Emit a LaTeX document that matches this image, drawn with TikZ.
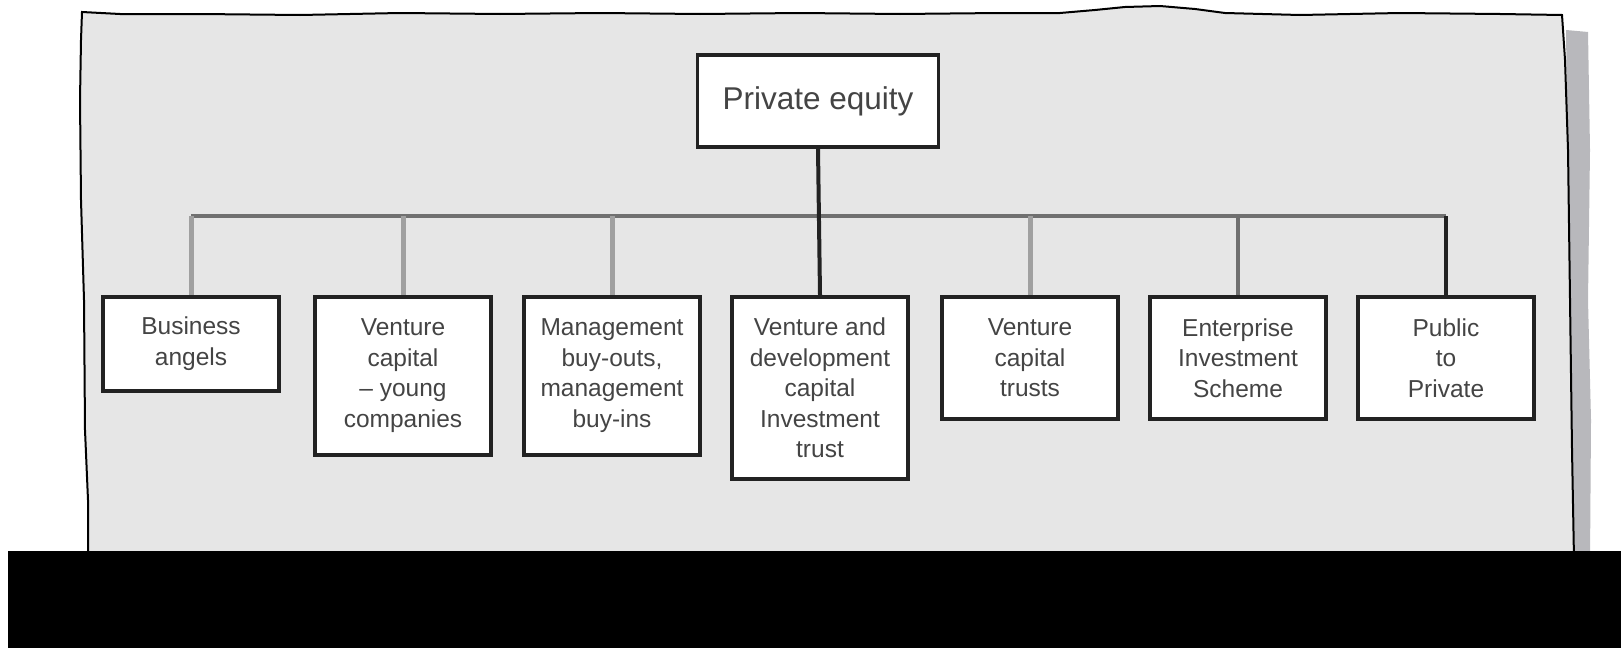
\documentclass[tikz,border=0pt]{standalone}
\usepackage{fontspec}
\setmainfont{Liberation Sans}
\definecolor{panel}{HTML}{E6E6E6}
\definecolor{boxline}{HTML}{222222}
\definecolor{txt}{HTML}{444444}
\definecolor{barcol}{HTML}{707070}
\definecolor{droplight}{HTML}{A0A0A0}
\definecolor{dropdark}{HTML}{6F6F6F}
\definecolor{shadowcol}{HTML}{B8B8BC}
\begin{document}
\begin{tikzpicture}[x=0.5pt,y=-0.5pt,
  box/.style={draw=boxline,line width=1.75pt,fill=white,minimum width=88pt,inner sep=0pt,
    align=center,font=\fontsize{12.25pt}{15.25pt}\selectfont,text=txt,anchor=north},
  topbox/.style={draw=boxline,line width=1.75pt,fill=white,minimum width=120.5pt,minimum height=46pt,
    inner sep=0pt,font=\fontsize{15.75pt}{19pt}\selectfont,text=txt},
  droplt/.style={line width=2.5pt,draw=droplight},
  dropdk/.style={line width=2.2pt,draw=dropdark},
  dropbk/.style={line width=2pt,draw=boxline},
  barline/.style={line width=2pt,draw=barcol}]
\useasboundingbox (0,0) rectangle (1621,648);
% shadow on the right
\fill[shadowcol] (1566,30) -- (1588,32) -- (1590,150) -- (1588,300) -- (1591,420) -- (1590,560) -- (1572,560) -- cycle;
% panel
\filldraw[fill=panel,draw=black,line width=1pt]
  (82,12) -- (120,14) -- (200,14) -- (300,15) -- (400,13) -- (500,14) -- (600,13) -- (700,14)
  -- (800,13) -- (900,14) -- (1000,13) -- (1060,13) -- (1095,10) -- (1125,7) -- (1160,6)
  -- (1195,9) -- (1225,13) -- (1300,15) -- (1400,13) -- (1500,14) -- (1562,15)
  -- (1565,60) -- (1568,150) -- (1570,300) -- (1572,450) -- (1574,560)
  -- (88,560) -- (88,500) -- (85,430) -- (84,300) -- (81,200) -- (80,100) -- (81,40) -- cycle;
% nodes
\node[topbox] (pe) at (818,101) {Private equity};
\node[box,minimum height=47pt] (ba) at (191,295) {Business\\angels};
\node[box,minimum height=79pt] (vc) at (403,295) {Venture\\capital\\– young\\companies};
\node[box,minimum height=79pt] (mbo) at (612,295) {Management\\buy-outs,\\management\\buy-ins};
\node[box,minimum height=91pt] (vdc) at (820,295) {Venture and\\development\\capital\\Investment\\trust};
\node[box,minimum height=61pt] (vct) at (1030,295) {Venture\\capital\\trusts};
\node[box,minimum height=61pt] (eis) at (1238,295) {Enterprise\\Investment\\Scheme};
\node[box,minimum height=61pt] (ptp) at (1446,295) {Public\\to\\Private};
% connectors
\coordinate (bar) at (0,216);
\draw[barline] (ba.north |- bar) -- (ptp.north |- bar);
\draw[droplt] (ba.north |- bar) -- (ba.north);
\draw[droplt] (vc.north |- bar) -- (vc.north);
\draw[droplt] (mbo.north |- bar) -- (mbo.north);
\draw[droplt] (vct.north |- bar) -- (vct.north);
\draw[dropdk] (eis.north |- bar) -- (eis.north);
\draw[dropbk] (ptp.north |- bar) -- (ptp.north);
\draw[dropbk] (pe.south) -- (vdc.north);
% noise band
\fill[black] (8,551) rectangle (1621,648);
\end{tikzpicture}
\end{document}
